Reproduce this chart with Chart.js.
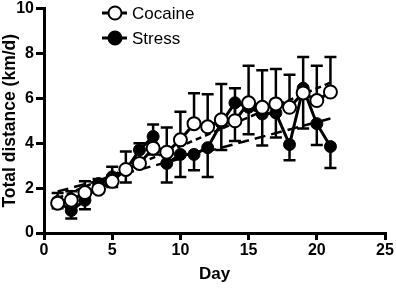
<!DOCTYPE html>
<html>
<head>
<meta charset="utf-8">
<script src="https://cdn.jsdelivr.net/npm/chart.js@4"></script>
<style>
  html, body { margin: 0; padding: 0; background: #fff; }
  #wrap { width: 396px; height: 289px; }
</style>
</head>
<body>
<div id="wrap"><canvas id="chart" width="396" height="289"></canvas></div>
<script>
// Data
const days = [1, 2, 3, 4, 5, 6, 7, 8, 9, 10, 11, 12, 13, 14, 15, 16, 17, 18, 19, 20, 21];
const cocaine = [1.33, 1.46, 1.8, 1.95, 2.3, 2.83, 3.1, 3.78, 3.6, 4.15, 4.87, 4.73, 5.04, 5.0, 5.8, 5.6, 5.75, 5.6, 6.24, 5.9, 6.28];
const cocaineErr = [0.45, 0.4, 0.5, 0.45, 0.65, 0.8, 0.9, 1.05, 1.1, 1.25, 1.35, 1.45, 1.6, 1.45, 1.65, 1.65, 1.55, 1.45, 1.6, 1.55, 1.56];
const stress = [1.4, 1.0, 1.46, 2.2, 2.5, 2.8, 3.7, 4.3, 3.1, 3.5, 3.5, 3.8, 4.9, 5.8, 5.6, 5.3, 5.35, 3.94, 6.45, 4.87, 3.85];
const stressErr = [0.3, 0.35, 0.4, 0.4, 0.45, 0.55, 0.7, 0.8, 0.85, 1.0, 0.7, 1.3, 1.2, 1.7, 1.2, 1.4, 1.1, 0.7, 1.8, 0.95, 0.95];
// linear fit end points (day, value)
const cocaineFit = [[1, 1.55], [21, 6.7]];
const stressFit = [[1, 1.85], [21, 5.1]];
const xTicks = [0, 5, 10, 15, 20, 25];
const yTicks = [0, 2, 4, 6, 8, 10];

const FONT = '"Liberation Sans", Arial, sans-serif';
const toPoints = (xs, ys) => xs.map((x, i) => ({ x: x, y: ys[i] }));

// one-sided error bars: cocaine up, stress down
const errorBars = {
    id: 'errorBars',
    beforeDatasetsDraw(chart) {
        const ctx = chart.ctx;
        const xs = chart.scales.x, ys = chart.scales.y;
        ctx.save();
        ctx.strokeStyle = '#000';
        ctx.lineWidth = 2.5;
        const draw = (vals, errs, dir) => {
            vals.forEach((v, i) => {
                const px = xs.getPixelForValue(days[i]);
                const y0 = ys.getPixelForValue(v);
                const y1 = ys.getPixelForValue(v + dir * errs[i]);
                ctx.beginPath();
                ctx.moveTo(px, y0);
                ctx.lineTo(px, y1);
                ctx.moveTo(px - 6, y1);
                ctx.lineTo(px + 6, y1);
                ctx.stroke();
            });
        };
        draw(cocaine, cocaineErr, 1);
        draw(stress, stressErr, -1);
        ctx.restore();
    }
};

// legend in the top left of the plot, GraphPad style
const insideLegend = {
    id: 'insideLegend',
    afterDraw(chart) {
        const ctx = chart.ctx;
        const items = [
            { label: chart.data.datasets[0].label, fill: '#fff', y: 13 },
            { label: chart.data.datasets[1].label, fill: '#000', y: 38 }
        ];
        ctx.save();
        items.forEach(it => {
            ctx.strokeStyle = '#000';
            ctx.lineWidth = 3;
            ctx.beginPath();
            ctx.moveTo(102, it.y);
            ctx.lineTo(127, it.y);
            ctx.stroke();
            ctx.beginPath();
            ctx.arc(115, it.y, 6.5, 0, Math.PI * 2);
            ctx.fillStyle = it.fill;
            ctx.fill();
            ctx.lineWidth = 2;
            ctx.stroke();
            ctx.fillStyle = '#000';
            ctx.font = '17px ' + FONT;
            ctx.textBaseline = 'middle';
            ctx.fillText(it.label, 132, it.y + 1);
        });
        ctx.restore();
    }
};

new Chart(document.getElementById('chart'), {
    type: 'scatter',
    data: {
        datasets: [{
            label: 'Cocaine',
            data: toPoints(days, cocaine),
            showLine: true,
            borderColor: '#000',
            borderWidth: 3,
            pointRadius: 6.5,
            pointBorderWidth: 2,
            pointBackgroundColor: '#fff',
            pointBorderColor: '#000'
        }, {
            label: 'Stress',
            data: toPoints(days, stress),
            showLine: true,
            borderColor: '#000',
            borderWidth: 3,
            pointRadius: 6,
            pointBorderWidth: 1,
            pointBackgroundColor: '#000',
            pointBorderColor: '#000'
        }, {
            label: 'Cocaine fit',
            data: cocaineFit.map(p => ({ x: p[0], y: p[1] })),
            showLine: true,
            borderColor: '#000',
            borderWidth: 2.5,
            borderDash: [6, 4],
            pointRadius: 0
        }, {
            label: 'Stress fit',
            data: stressFit.map(p => ({ x: p[0], y: p[1] })),
            showLine: true,
            borderColor: '#000',
            borderWidth: 2.5,
            borderDash: [11, 6],
            pointRadius: 0
        }]
    },
    options: {
        responsive: false,
        animation: false,
        layout: { padding: { top: 7, right: 11, left: 0, bottom: 0 } },
        plugins: {
            legend: { display: false },
            tooltip: { enabled: false }
        },
        scales: {
            x: {
                type: 'linear',
                min: 0,
                max: 25,
                afterBuildTicks: s => { s.ticks = xTicks.map(v => ({ value: v })); },
                afterFit: s => { s.height = 56; s.paddingLeft = 0; s.paddingRight = 0; },
                grid: { drawOnChartArea: false, tickLength: 7, lineWidth: 3, color: '#000' },
                border: { width: 3, color: '#000' },
                ticks: {
                    color: '#000',
                    padding: 1,
                    font: { family: FONT, size: 16, weight: 'bold' }
                },
                title: {
                    display: true,
                    text: 'Day',
                    color: '#000',
                    padding: { top: 0, bottom: 4 },
                    font: { family: FONT, size: 17, weight: 'bold' }
                }
            },
            y: {
                min: 0,
                max: 10,
                afterBuildTicks: s => { s.ticks = yTicks.map(v => ({ value: v })); },
                afterFit: s => { s.width = 44; s.paddingTop = 0; s.paddingBottom = 0; },
                grid: { drawOnChartArea: false, tickLength: 8, lineWidth: 3, color: '#000' },
                border: { width: 3, color: '#000' },
                ticks: {
                    color: '#000',
                    padding: 2,
                    font: { family: FONT, size: 16, weight: 'bold' }
                },
                title: {
                    display: true,
                    text: 'Total distance (km/d)',
                    color: '#000',
                    padding: { top: 0, bottom: 0 },
                    font: { family: FONT, size: 17.5, weight: 'bold' }
                }
            }
        }
    },
    plugins: [errorBars, insideLegend]
});
</script>
</body>
</html>
